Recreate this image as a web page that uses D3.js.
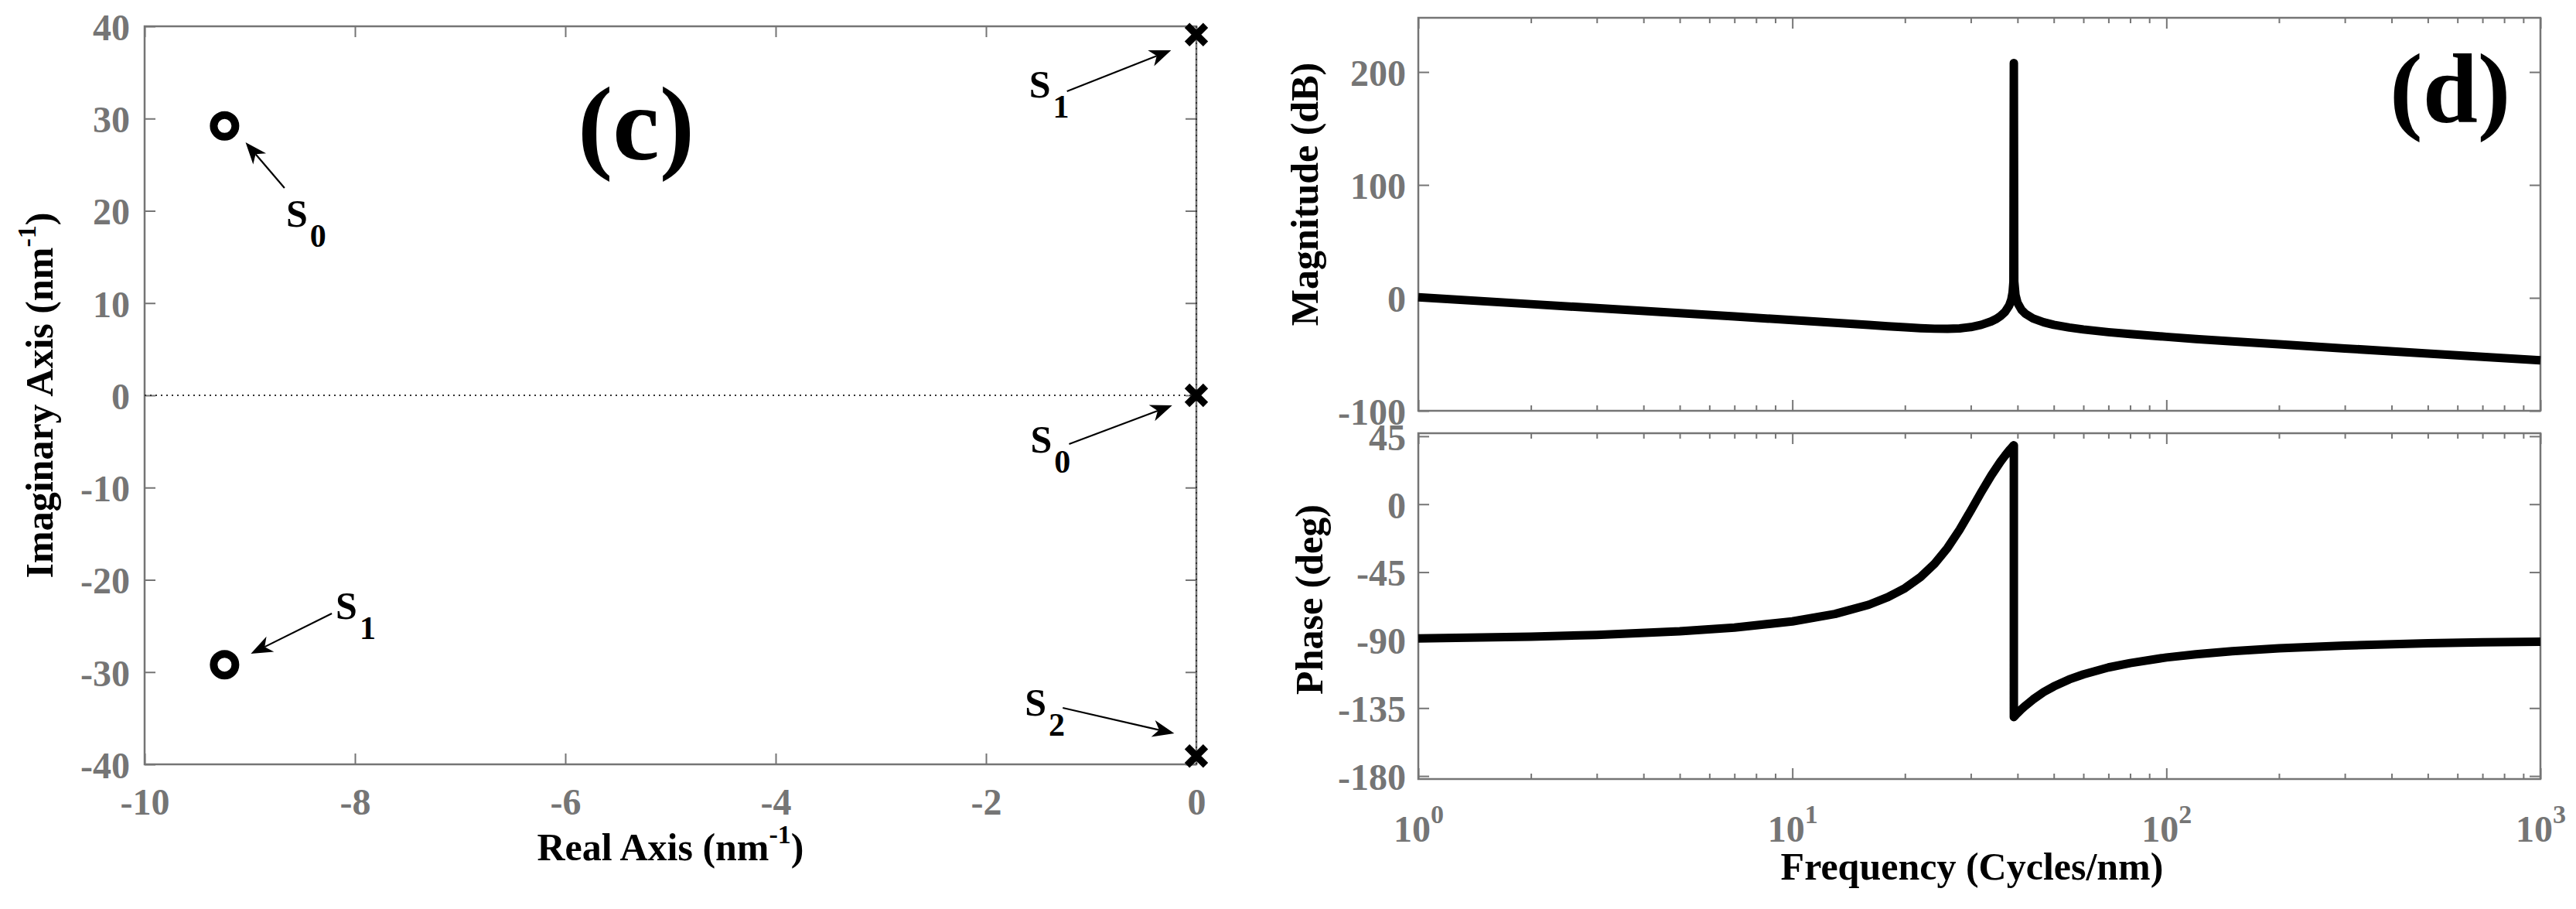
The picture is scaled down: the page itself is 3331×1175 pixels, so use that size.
<!DOCTYPE html>
<html>
<head>
<meta charset="utf-8">
<script src="https://d3js.org/d3.v7.min.js"></script>
<style>
  body { margin: 0; background: #fff; }
  text { font-family: "Liberation Serif", "Times New Roman", serif; font-weight: bold; }
</style>
</head>
<body>
<div id="vis"></div>
<script>
// pole-zero map (c)
var zerosRe = [-9.24, -9.24];
var zerosIm = [29.2, -29.2];
var polesRe = [0, 0, 0];
var polesIm = [39.1, 0, -39.1];
var pzXTicks = [-10, -8, -6, -4, -2, 0];
var pzYTicks = [-40, -30, -20, -10, 0, 10, 20, 30, 40];

// annotations: label, subscript, arrow tail and arrow head (data units)
var annText = ["S", "S", "S", "S", "S"];
var annSub = ["0", "1", "1", "0", "2"];
var annTail = [[-8.67, 22.47], [-8.22, -23.65], [-1.23, 32.96], [-1.21, -5.28], [-1.27, -33.88]];
var annHead = [[-9.04, 27.42], [-8.99, -28.01], [-0.24, 37.40], [-0.23, -1.09], [-0.21, -36.65]];

// bode plot (d)
var magFreq = [1, 2, 3, 5, 7, 10, 13, 16, 18, 20, 22, 24, 26, 28, 30, 32, 34, 35, 36, 37, 38, 38.5, 38.8, 39.0, 39.1, 39.2, 39.5, 40, 41, 42, 44, 47, 50, 55, 60, 70, 80, 100, 120, 150, 200, 300, 500, 700, 1000];
var magDb = [0.5, -5.55, -9.1, -13.5, -16.5, -19.7, -22.1, -24.0, -25.1, -26.0, -26.8, -27.3, -27.4, -27.0, -25.9, -23.9, -20.9, -18.85, -16.2, -12.6, -6.75, -1.4, 4.7, 14.1, 208, 14.6, 2.5, -4.45, -10.7, -14.1, -18.2, -21.65, -23.85, -26.3, -28.0, -30.4, -32.05, -34.5, -36.4, -38.5, -41.15, -44.8, -49.25, -52.2, -55.3];
var phaseFreq = [1, 2, 3, 5, 7, 10, 13, 16, 18, 20, 22, 24, 26, 28, 30, 32, 34, 36, 37, 38, 38.5, 38.8, 39.0, 39.1, 39.1, 39.2, 39.5, 40, 41, 42, 44, 47, 50, 55, 60, 70, 80, 100, 120, 150, 200, 300, 500, 700, 1000];
var phaseDeg = [-88.9, -87.7, -86.6, -84.2, -81.7, -77.6, -72.7, -66.6, -61.6, -55.6, -48.3, -39.4, -28.9, -16.9, -4.2, 8.0, 18.9, 28.1, 32.0, 35.6, 37.2, 38.2, 38.8, 39.0, -141.0, -140.6, -139.7, -138.3, -135.7, -133.4, -129.3, -124.4, -120.7, -116.0, -112.7, -108.1, -105.2, -101.5, -99.4, -97.3, -95.4, -93.6, -92.1, -91.5, -91.1];
var freqMajor = [1, 10, 100, 1000];
var magTicks = [-100, 0, 100, 200];
var phaseTicks = [-180, -135, -90, -45, 0, 45];

var axisColor = "#757575";

var svg = d3.select("#vis")
  .append("svg")
  .attr("width", 3331)
  .attr("height", 1175);

svg.append("rect").attr("width", 3331).attr("height", 1175).attr("fill", "#fff");

// style ticks and labels the matlab way
function styleAxis(g, fontSize) {
  g.select(".domain").remove();
  g.selectAll(".tick line")
    .attr("stroke", axisColor)
    .attr("stroke-width", 2);
  g.selectAll(".tick text")
    .attr("fill", axisColor)
    .style("font-size", fontSize + "px");
}

function frame(x0, y0, x1, y1) {
  svg.append("rect")
    .attr("x", x0).attr("y", y0)
    .attr("width", x1 - x0).attr("height", y1 - y0)
    .attr("fill", "none")
    .attr("stroke", axisColor)
    .attr("stroke-width", 2.5);
}

function axisTitle(txt, x, y, rotate) {
  var t = svg.append("text")
    .attr("text-anchor", "middle")
    .attr("fill", "#000")
    .style("font-size", "50px")
    .attr("transform", "translate(" + x + "," + y + ")" + (rotate ? " rotate(-90)" : ""));
  t.append("tspan").text(txt);
  return t;
}

function unitSuffix(t) {
  t.append("tspan").text("(nm");
  t.append("tspan").attr("dy", -22).style("font-size", "34px").text("-1");
  t.append("tspan").attr("dy", 22).style("font-size", "50px").text(")");
}

function drawArrow(x1, y1, x2, y2) {
  var ang = Math.atan2(y2 - y1, x2 - x1);
  svg.append("line")
    .attr("x1", x1).attr("y1", y1)
    .attr("x2", x2 - 20 * Math.cos(ang)).attr("y2", y2 - 20 * Math.sin(ang))
    .attr("stroke", "#000")
    .attr("stroke-width", 2.2);
  svg.append("path")
    .attr("d", "M0,0L-28,-11L-20,0L-28,11Z")
    .attr("fill", "#000")
    .attr("transform", "translate(" + x2 + "," + y2 + ") rotate(" + (ang * 180 / Math.PI) + ")");
}

// ---------------- pole-zero map ----------------
function plotPZ() {
  var x = d3.scaleLinear().domain([-10, 0]).range([187, 1547]);
  var y = d3.scaleLinear().domain([-40, 40]).range([988, 34]);

  frame(x(-10), y(40), x(0), y(-40));

  var gx = svg.append("g")
    .attr("transform", "translate(0," + y(-40) + ")")
    .call(d3.axisBottom(x).tickValues(pzXTicks).tickSize(-14).tickSizeOuter(0)
      .tickFormat(function(d) { return String(d); }));
  styleAxis(gx, 48);
  gx.selectAll(".tick text").attr("y", 65).attr("dy", 0);

  var gy = svg.append("g")
    .attr("transform", "translate(" + x(-10) + ",0)")
    .call(d3.axisLeft(y).tickValues(pzYTicks).tickSize(-14).tickSizeOuter(0).tickPadding(19)
      .tickFormat(function(d) { return String(d); }));
  styleAxis(gy, 48);
  gy.selectAll(".tick text").attr("dy", "0.36em");

  var gt = svg.append("g")
    .attr("transform", "translate(0," + y(40) + ")")
    .call(d3.axisTop(x).tickValues(pzXTicks).tickSize(-14).tickSizeOuter(0).tickFormat(""));
  styleAxis(gt, 48);

  var gr = svg.append("g")
    .attr("transform", "translate(" + x(0) + ",0)")
    .call(d3.axisRight(y).tickValues(pzYTicks).tickSize(-14).tickSizeOuter(0).tickFormat(""));
  styleAxis(gr, 48);

  // dotted real and imaginary axes
  svg.append("line")
    .attr("x1", x(-10)).attr("x2", x(0))
    .attr("y1", y(0)).attr("y2", y(0))
    .attr("stroke", "#333").attr("stroke-width", 2)
    .attr("stroke-dasharray", "2,5");
  svg.append("line")
    .attr("x1", x(0)).attr("x2", x(0))
    .attr("y1", y(-40)).attr("y2", y(40))
    .attr("stroke", "#333").attr("stroke-width", 2)
    .attr("stroke-dasharray", "2,5");

  // zeros
  svg.selectAll(".zero")
    .data(zerosRe)
    .enter().append("circle")
    .attr("class", "zero")
    .attr("cx", function(d) { return x(d); })
    .attr("cy", function(d, i) { return y(zerosIm[i]); })
    .attr("r", 14)
    .attr("fill", "none")
    .attr("stroke", "#000")
    .attr("stroke-width", 10);

  // poles
  svg.selectAll(".pole")
    .data(polesRe)
    .enter().append("path")
    .attr("class", "pole")
    .attr("d", "M-12,-12L12,12M-12,12L12,-12")
    .attr("transform", function(d, i) { return "translate(" + x(d) + "," + y(polesIm[i]) + ")"; })
    .attr("stroke", "#000")
    .attr("stroke-width", 9);

  // S labels with arrows
  var textOff = [[2, 50], [5, 7], [-49, 8], [-50, 11], [-49, 10]];
  annText.forEach(function(s, i) {
    var tx = x(annTail[i][0]), ty = y(annTail[i][1]);
    drawArrow(tx, ty, x(annHead[i][0]), y(annHead[i][1]));
    var t = svg.append("text")
      .attr("x", tx + textOff[i][0])
      .attr("y", ty + textOff[i][1])
      .attr("fill", "#000")
      .style("font-size", "50px");
    t.append("tspan").text(s);
    t.append("tspan").attr("dx", 3).attr("dy", 26).style("font-size", "42px").text(annSub[i]);
  });

  svg.append("text")
    .attr("x", 747).attr("y", 206)
    .attr("fill", "#000")
    .style("font-size", "136px")
    .text("(c)");

  var tx = axisTitle("Real Axis ", (x(-10) + x(0)) / 2, 1112, false);
  unitSuffix(tx);
  var ty = axisTitle("Imaginary Axis ", 68, (y(40) + y(-40)) / 2, true);
  unitSuffix(ty);
}

// ---------------- bode plot ----------------
function plotBode() {
  var fx = d3.scaleLog().domain([1, 1000]).range([1834, 3285]);
  var my = d3.scaleLinear().domain([-100, 248]).range([531, 23]);
  var py = d3.scaleLinear().domain([-182, 47]).range([1007, 560]);

  var allTicks = fx.ticks();
  function isMajor(d) { return freqMajor.indexOf(d) >= 0; }

  function logAxes(yScale, yTicks, showLabels) {
    var y0 = yScale.range()[0], y1 = yScale.range()[1];
    frame(fx(1), y1, fx(1000), y0);

    var gb = svg.append("g")
      .attr("transform", "translate(0," + y0 + ")")
      .call(d3.axisBottom(fx).tickValues(allTicks).tickSize(-14).tickSizeOuter(0)
        .tickFormat(function(d) { return (showLabels && isMajor(d)) ? "10" : ""; }));
    styleAxis(gb, 48);
    gb.selectAll(".tick line").attr("y2", function(d) { return isMajor(d) ? -14 : -7; });
    if (showLabels) {
      gb.selectAll(".tick text")
        .attr("y", 81).attr("dy", 0)
        .each(function(d) {
          if (!isMajor(d)) return;
          d3.select(this).append("tspan")
            .attr("dy", -24)
            .style("font-size", "34px")
            .text(Math.round(Math.log10(d)));
        });
    }

    var gt = svg.append("g")
      .attr("transform", "translate(0," + y1 + ")")
      .call(d3.axisTop(fx).tickValues(allTicks).tickSize(-14).tickSizeOuter(0).tickFormat(""));
    styleAxis(gt, 48);
    gt.selectAll(".tick line").attr("y2", function(d) { return isMajor(d) ? 14 : 7; });

    var gl = svg.append("g")
      .attr("transform", "translate(" + fx(1) + ",0)")
      .call(d3.axisLeft(yScale).tickValues(yTicks).tickSize(-14).tickSizeOuter(0).tickPadding(16)
        .tickFormat(function(d) { return String(d); }));
    styleAxis(gl, 48);
    gl.selectAll(".tick text").attr("dy", "0.36em");

    var gr = svg.append("g")
      .attr("transform", "translate(" + fx(1000) + ",0)")
      .call(d3.axisRight(yScale).tickValues(yTicks).tickSize(-14).tickSizeOuter(0).tickFormat(""));
    styleAxis(gr, 48);
  }

  logAxes(my, magTicks, false);
  logAxes(py, phaseTicks, true);

  // magnitude curve
  svg.append("path")
    .datum(magFreq)
    .attr("fill", "none")
    .attr("stroke", "#000")
    .attr("stroke-width", 11)
    .attr("stroke-linejoin", "round")
    .attr("d", d3.line()
      .x(function(d) { return fx(d); })
      .y(function(d, i) { return my(magDb[i]); })
    );

  // phase curve
  svg.append("path")
    .datum(phaseFreq)
    .attr("fill", "none")
    .attr("stroke", "#000")
    .attr("stroke-width", 11)
    .attr("stroke-linejoin", "round")
    .attr("d", d3.line()
      .x(function(d) { return fx(d); })
      .y(function(d, i) { return py(phaseDeg[i]); })
    );

  svg.append("text")
    .attr("x", 3090).attr("y", 157)
    .attr("fill", "#000")
    .style("font-size", "128px")
    .text("(d)");

  axisTitle("Magnitude (dB)", 1704, 251, true);
  axisTitle("Phase (deg)", 1710, 775, true);
  axisTitle("Frequency (Cycles/nm)", 2550, 1137, false);
}

plotPZ();
plotBode();
</script>
</body>
</html>
